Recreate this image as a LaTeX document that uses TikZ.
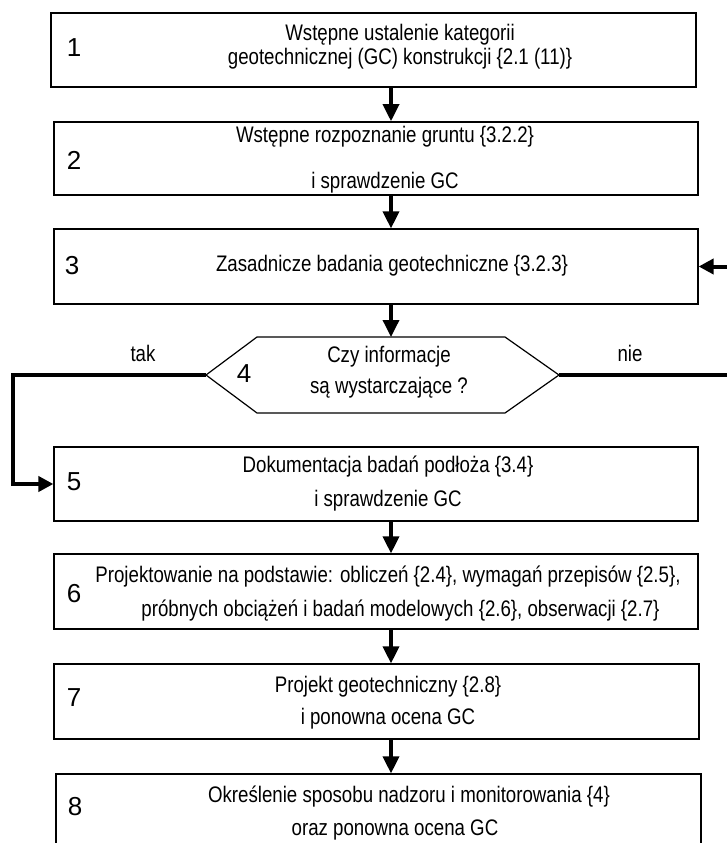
\documentclass[tikz,border=0pt]{standalone}
\usepackage{fontspec}
\setmainfont{Liberation Sans}
\newfontfamily\narrowfont[FakeStretch=0.83]{Liberation Sans}
\usetikzlibrary{arrows.meta}

\begin{document}
\begin{tikzpicture}[x=1pt,y=-1pt,
  stepbox/.style={draw, line width=1.2pt, minimum width=644pt, minimum height=74pt, inner sep=0pt},
  stepnum/.style={inner sep=0pt, font=\fontsize{26}{26}\selectfont},
  steptext/.style={align=center, inner sep=0pt, font=\narrowfont\fontsize{22.5}{#1}\selectfont},
  steptext/.default=34,
  flowarrow/.style={line width=3.5pt, -{Triangle[length=17pt,width=16pt]}},
  loopline/.style={line width=4pt, -{Triangle[length=15pt,width=15pt]}}]
\useasboundingbox (0,0) rectangle (726,843);
\coordinate (axis) at (391,0);
\coordinate (lft) at (13,0);
\coordinate (rgt) at (740,0);

% Step 1
\node[stepbox, line width=1.6pt, minimum width=645pt] (b1) at (373.5,50) {};
\node[stepnum] (n1) at (74,48) {1};
\node[steptext=24] (t1) at (400,47) {Wstępne ustalenie kategorii\\geotechnicznej (GC) konstrukcji \{2.1 (11)\}};

% Step 2
\node[stepbox, line width=1.6pt, minimum height=73pt] (b2) at (376,158.5) {};
\node[stepnum] (n2) at (74,160) {2};
\node[steptext=46] (t2) at (385,160) {Wstępne rozpoznanie gruntu \{3.2.2\}\\i sprawdzenie GC};

% Step 3
\node[stepbox, minimum height=75pt] (b3) at (376,266.5) {};
\node[stepnum] (n3) at (72,266) {3};
\node[steptext] (t3) at (392,266) {Zasadnicze badania geotechniczne \{3.2.3\}};

% Step 4 - decision
\coordinate (h4w) at (206,375);
\coordinate (h4e) at (559,375);
\coordinate (h4n) at (391,337);
\draw[line width=1.2pt] (h4w) -- (257,337) -- (h4n) -- (505,337) -- (h4e)
  -- (505,413) -- (257,413) -- cycle;
\node[stepnum] (n4) at (244,374) {4};
\node[steptext=31] (t4) at (389,372) {Czy informacje\\są wystarczające ?};
\node[steptext] (tak) at (143,353) {tak};
\node[steptext] (nie) at (630,353) {nie};

% Step 5
\node[stepbox] (b5) at (376,484) {};
\node[stepnum] (n5) at (74,482) {5};
\node[steptext] (t5) at (388,484) {Dokumentacja badań podłoża \{3.4\}\\i sprawdzenie GC};

% Step 6
\node[stepbox, minimum height=75pt] (b6) at (376,591.5) {};
\node[stepnum] (n6) at (74,594) {6};
\node[steptext] (t6) at (388,594) {Projektowanie na podstawie: obliczeń \{2.4\}, wymagań przepisów \{2.5\},\\\hspace*{25pt}próbnych obciążeń i badań modelowych \{2.6\}, obserwacji \{2.7\}};

% Step 7
\node[stepbox, minimum width=645pt, minimum height=75pt] (b7) at (376.5,701.5) {};
\node[stepnum] (n7) at (74,698) {7};
\node[steptext=32] (t7) at (388,703) {Projekt geotechniczny \{2.8\}\\i ponowna ocena GC};

% Step 8
\node[stepbox, minimum width=645pt, minimum height=75pt] (b8) at (378.5,811.5) {};
\node[stepnum] (n8) at (75,807) {8};
\node[steptext=33] (t8) at (395,813) {\hspace*{28pt}Określenie sposobu nadzoru i monitorowania \{4\}\\oraz ponowna ocena GC};

% Main flow
\draw[flowarrow] (b1.south -| axis) -- (b2.north -| axis);
\draw[flowarrow] (b2.south -| axis) -- (b3.north -| axis);
\draw[flowarrow] (b3.south -| axis) -- (h4n);
\draw[flowarrow] (b5.south -| axis) -- (b6.north -| axis);
\draw[flowarrow] (b6.south -| axis) -- (b7.north -| axis);
\draw[flowarrow] (b7.south -| axis) -- (b8.north -| axis);

% Branches
\draw[loopline] (h4w) -- (h4w -| lft) |- (b5.west);
\draw[loopline] (h4e) -- (h4e -| rgt) |- (b3.east);

\end{tikzpicture}
\end{document}
